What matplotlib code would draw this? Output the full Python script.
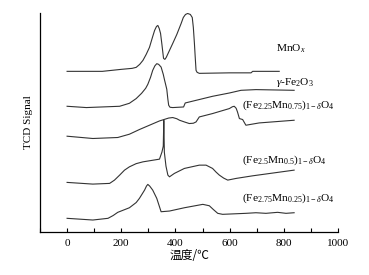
import matplotlib
matplotlib.use('Agg')
import matplotlib.pyplot as plt
from matplotlib.ticker import MultipleLocator

plt.rcParams['font.family'] = ['Liberation Serif', 'DejaVu Serif']
plt.rcParams['mathtext.fontset'] = 'custom'
plt.rcParams['mathtext.rm'] = 'Liberation Serif'
plt.rcParams['mathtext.it'] = 'Liberation Serif:italic'

# temperature (degC) / signal (offset, arbitrary units)
mnox_t = [0, 130, 200, 240, 255, 268, 280, 292, 304, 315, 323, 330, 335, 340, 345, 350, 356, 361, 366,
          378, 390, 405, 421, 429, 437, 445, 455, 462, 466, 470, 473, 476, 480, 488, 600, 679, 685, 783]
mnox_y = [161, 161, 163, 164, 165, 168, 172, 178, 185, 195, 202, 206, 207, 204, 199, 188, 174, 173, 175,
          182, 189, 198, 209, 215, 218, 219, 218, 215, 205, 189, 175, 162, 160, 159, 159.5, 159.5, 161, 161]

fe2o3_t = [0, 71, 194, 230, 255, 275, 290, 298, 308, 316, 324, 331, 338, 347, 355, 360, 363, 368, 372,
           375, 380, 390, 430, 436, 537, 599, 642, 697, 838]
fe2o3_y = [126, 124.7, 126, 129, 133.7, 139, 144, 148, 155, 162, 166.5, 168.7, 168, 165.3, 158, 152, 148.7,
           143, 133, 127, 125, 124.7, 125.3, 129.3, 136, 139.3, 142, 142.7, 142]

fe225_t = [0, 95, 187, 230, 267, 341, 375, 390, 405, 415, 433, 451, 466, 476, 488, 537, 599, 610, 617,
           624, 629, 636, 648, 660, 709, 838]
fe225_y = [96, 93.7, 94.7, 98, 102.7, 111.3, 114.2, 114.7, 113.5, 112, 110.3, 108.7, 109, 110.3, 115.3,
           118.7, 123.7, 125.5, 126, 124, 120.3, 113.7, 112.7, 107, 109.3, 112]

fe25_t = [0, 95, 157, 175, 194, 212, 230, 255, 280, 341, 350, 355, 357, 359, 365, 372, 378, 396, 433,
          488, 513, 537, 550, 562, 578, 593, 624, 685, 838]
fe25_y = [49.7, 48, 48.7, 52, 57, 62, 65.3, 68.5, 70.3, 73, 80, 86, 112, 80, 66, 57, 55.3, 58.7, 63.7,
          67, 67, 63.7, 60, 57, 54, 52, 53.7, 56.3, 62]

fe275_t = [0, 95, 151, 170, 187, 230, 255, 267, 286, 293, 298, 305, 316, 331, 347, 378, 433, 501, 525,
           540, 556, 574, 660, 697, 734, 777, 808, 838]
fe275_y = [13.7, 12, 13.7, 16.5, 19.7, 24.3, 29.5, 33.7, 42, 46, 47.7, 46, 42, 33.7, 20.3, 21, 24.3,
           27.7, 26.3, 22.5, 18.7, 17.7, 18.7, 19.3, 18.7, 19.7, 18.7, 19.3]

labels = [r'MnO$_{\mathit{x}}$', r'$\gamma$-Fe$_2$O$_3$',
          r'(Fe$_{2.25}$Mn$_{0.75}$)$_{1-\delta}$O$_4$',
          r'(Fe$_{2.5}$Mn$_{0.5}$)$_{1-\delta}$O$_4$',
          r'(Fe$_{2.75}$Mn$_{0.25}$)$_{1-\delta}$O$_4$']
label_x = [770, 770, 645, 645, 645]
label_y = [184, 150, 127, 72, 34]

fig = plt.figure(figsize=(3.69, 2.75), dpi=100)
ax = fig.add_axes([0.1084, 0.1564, 0.8076, 0.7964])

for t, y in [(mnox_t, mnox_y), (fe2o3_t, fe2o3_y), (fe225_t, fe225_y),
             (fe25_t, fe25_y), (fe275_t, fe275_y)]:
    ax.plot(t, y, color='#333333', lw=0.8)

for txt, x, y in zip(labels, label_x, label_y):
    ax.text(x, y, txt, fontsize=8.2, ha='left', va='center')

ax.set_xlim(-100, 1000)
ax.set_ylim(0, 219.5)
ax.xaxis.set_minor_locator(MultipleLocator(100))
ax.set_xticks([0, 200, 400, 600, 800, 1000])
ax.tick_params(axis='x', which='both', direction='in', length=3, width=0.8, labelsize=8, pad=5)
ax.set_yticks([])
ax.spines['top'].set_visible(False)
ax.spines['right'].set_visible(False)
ax.spines['left'].set_linewidth(0.9)
ax.spines['bottom'].set_linewidth(0.9)

ax.set_xlabel('温度/℃', fontsize=8.5, family=['Noto Sans CJK SC', 'DejaVu Sans'], labelpad=1)
ax.set_ylabel('TCD Signal', fontsize=8, labelpad=5)

fig.savefig('out.png', dpi=100)
